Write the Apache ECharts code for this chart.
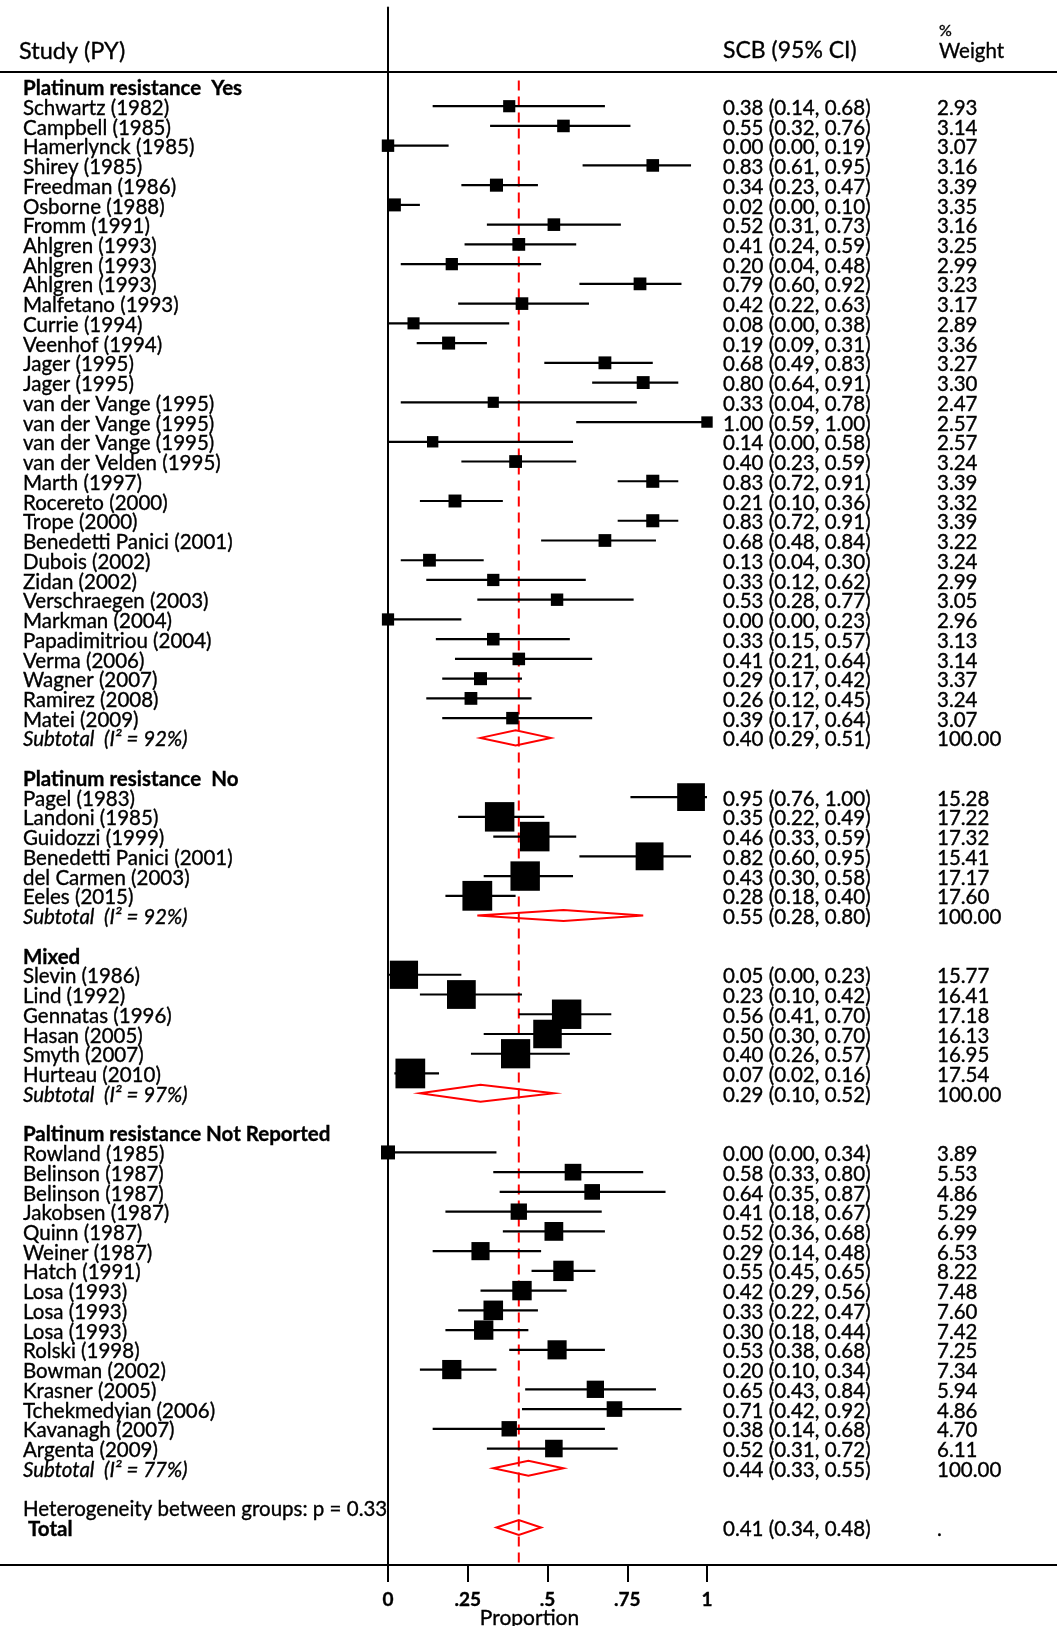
<!DOCTYPE html>
<html>
<head>
<meta charset="utf-8">
<title>Forest plot: SCB proportion by platinum resistance</title>
<script src="https://cdn.jsdelivr.net/npm/echarts@6/dist/echarts.min.js"></script>
<style>
  html, body { margin: 0; padding: 0; background: #ffffff; }
  #chart { width: 1057px; height: 1626px; }
</style>
</head>
<body>
<div id="chart"></div>
<script>
// ---- Group: platinum resistance yes ----
const yesStudies = ['Schwartz (1982)', 'Campbell (1985)', 'Hamerlynck (1985)', 'Shirey (1985)', 'Freedman (1986)',
  'Osborne (1988)', 'Fromm (1991)', 'Ahlgren (1993)', 'Ahlgren (1993)', 'Ahlgren (1993)', 'Malfetano (1993)',
  'Currie (1994)', 'Veenhof (1994)', 'Jager (1995)', 'Jager (1995)', 'van der Vange (1995)', 'van der Vange (1995)',
  'van der Vange (1995)', 'van der Velden (1995)', 'Marth (1997)', 'Rocereto (2000)', 'Trope (2000)',
  'Benedetti Panici (2001)', 'Dubois (2002)', 'Zidan (2002)', 'Verschraegen (2003)', 'Markman (2004)',
  'Papadimitriou (2004)', 'Verma (2006)', 'Wagner (2007)', 'Ramirez (2008)', 'Matei (2009)'];
const yesEst = [0.38, 0.55, 0.00, 0.83, 0.34, 0.02, 0.52, 0.41, 0.20, 0.79, 0.42, 0.08, 0.19, 0.68, 0.80, 0.33,
  1.00, 0.14, 0.40, 0.83, 0.21, 0.83, 0.68, 0.13, 0.33, 0.53, 0.00, 0.33, 0.41, 0.29, 0.26, 0.39];
const yesLo = [0.14, 0.32, 0.00, 0.61, 0.23, 0.00, 0.31, 0.24, 0.04, 0.60, 0.22, 0.00, 0.09, 0.49, 0.64, 0.04,
  0.59, 0.00, 0.23, 0.72, 0.10, 0.72, 0.48, 0.04, 0.12, 0.28, 0.00, 0.15, 0.21, 0.17, 0.12, 0.17];
const yesHi = [0.68, 0.76, 0.19, 0.95, 0.47, 0.10, 0.73, 0.59, 0.48, 0.92, 0.63, 0.38, 0.31, 0.83, 0.91, 0.78,
  1.00, 0.58, 0.59, 0.91, 0.36, 0.91, 0.84, 0.30, 0.62, 0.77, 0.23, 0.57, 0.64, 0.42, 0.45, 0.64];
const yesWeight = [2.93, 3.14, 3.07, 3.16, 3.39, 3.35, 3.16, 3.25, 2.99, 3.23, 3.17, 2.89, 3.36, 3.27, 3.30, 2.47,
  2.57, 2.57, 3.24, 3.39, 3.32, 3.39, 3.22, 3.24, 2.99, 3.05, 2.96, 3.13, 3.14, 3.37, 3.24, 3.07];

// ---- Group: platinum resistance no ----
const noStudies = ['Pagel (1983)', 'Landoni (1985)', 'Guidozzi (1999)', 'Benedetti Panici (2001)',
  'del Carmen (2003)', 'Eeles (2015)'];
const noEst = [0.95, 0.35, 0.46, 0.82, 0.43, 0.28];
const noLo = [0.76, 0.22, 0.33, 0.60, 0.30, 0.18];
const noHi = [1.00, 0.49, 0.59, 0.95, 0.58, 0.40];
const noWeight = [15.28, 17.22, 17.32, 15.41, 17.17, 17.60];

// ---- Group: mixed ----
const mixedStudies = ['Slevin (1986)', 'Lind (1992)', 'Gennatas (1996)', 'Hasan (2005)', 'Smyth (2007)', 'Hurteau (2010)'];
const mixedEst = [0.05, 0.23, 0.56, 0.50, 0.40, 0.07];
const mixedLo = [0.00, 0.10, 0.41, 0.30, 0.26, 0.02];
const mixedHi = [0.23, 0.42, 0.70, 0.70, 0.57, 0.16];
const mixedWeight = [15.77, 16.41, 17.18, 16.13, 16.95, 17.54];

// ---- Group: not reported ----
const nrStudies = ['Rowland (1985)', 'Belinson (1987)', 'Belinson (1987)', 'Jakobsen (1987)', 'Quinn (1987)',
  'Weiner (1987)', 'Hatch (1991)', 'Losa (1993)', 'Losa (1993)', 'Losa (1993)', 'Rolski (1998)', 'Bowman (2002)',
  'Krasner (2005)', 'Tchekmedyian (2006)', 'Kavanagh (2007)', 'Argenta (2009)'];
const nrEst = [0.00, 0.58, 0.64, 0.41, 0.52, 0.29, 0.55, 0.42, 0.33, 0.30, 0.53, 0.20, 0.65, 0.71, 0.38, 0.52];
const nrLo = [0.00, 0.33, 0.35, 0.18, 0.36, 0.14, 0.45, 0.29, 0.22, 0.18, 0.38, 0.10, 0.43, 0.42, 0.14, 0.31];
const nrHi = [0.34, 0.80, 0.87, 0.67, 0.68, 0.48, 0.65, 0.56, 0.47, 0.44, 0.68, 0.34, 0.84, 0.92, 0.68, 0.72];
const nrWeight = [3.89, 5.53, 4.86, 5.29, 6.99, 6.53, 8.22, 7.48, 7.60, 7.42, 7.25, 7.34, 5.94, 4.86, 4.70, 6.11];

// ---- Subgroup and overall pooled estimates ----
const groupTitles = ['Platinum resistance  Yes', 'Platinum resistance  No', 'Mixed', 'Paltinum resistance Not Reported'];
const subtotalEst = [0.40, 0.55, 0.29, 0.44];
const subtotalLo = [0.29, 0.28, 0.10, 0.33];
const subtotalHi = [0.51, 0.80, 0.52, 0.55];
const subtotalI2 = [92, 92, 97, 77];
const totalEst = 0.41;
const totalLo = 0.34;
const totalHi = 0.48;
const heterogeneityP = '0.33';

// ---- Axis ticks ----
const xTicks = [0, 0.25, 0.5, 0.75, 1];
const xTickLabels = ['0', '.25', '.5', '.75', '1'];

// Diamond half heights (px) for the four subtotals and the total
const diamondHalf = [7.5, 5.5, 8.5, 7.5, 7.5];

const FONT = 'Lato';
const FS = 20.5;
const INK = { color: '#000', textBorderColor: '#000', textBorderWidth: 0.35 };
const fmt2 = v => v.toFixed(2);
const ciText = (e, l, h) => fmt2(e) + ' (' + fmt2(l) + ', ' + fmt2(h) + ')';

// Lay the rows out top to bottom
const groups = [
  { names: yesStudies, est: yesEst, lo: yesLo, hi: yesHi, w: yesWeight },
  { names: noStudies, est: noEst, lo: noLo, hi: noHi, w: noWeight },
  { names: mixedStudies, est: mixedEst, lo: mixedLo, hi: mixedHi, w: mixedWeight },
  { names: nrStudies, est: nrEst, lo: nrLo, hi: nrHi, w: nrWeight }
];
const leftText = {}, ciCol = {}, wCol = {};
const ciLines = [], boxes = [], diamonds = [];
let row = 0;
groups.forEach((g, gi) => {
  leftText[row] = '{h|' + groupTitles[gi] + '}';
  row++;
  g.names.forEach((n, i) => {
    leftText[row] = '{s|' + n + '}';
    ciCol[row] = '{v|' + ciText(g.est[i], g.lo[i], g.hi[i]) + '}';
    wCol[row] = '{v|' + fmt2(g.w[i]) + '}';
    ciLines.push([row, g.lo[i], g.hi[i]]);
    boxes.push([g.est[i], row, g.w[i]]);
    row++;
  });
  leftText[row] = '{t|Subtotal  (I\u00b2 = ' + subtotalI2[gi] + '%)}';
  ciCol[row] = '{v|' + ciText(subtotalEst[gi], subtotalLo[gi], subtotalHi[gi]) + '}';
  wCol[row] = '{v|100.00}';
  diamonds.push([row, subtotalEst[gi], subtotalLo[gi], subtotalHi[gi], diamondHalf[gi]]);
  row += 2;
});
leftText[row] = '{s|Heterogeneity between groups: p = ' + heterogeneityP + '}';
row++;
leftText[row] = '{tot|Total}';
ciCol[row] = '{v|' + ciText(totalEst, totalLo, totalHi) + '}';
wCol[row] = '{v|.}';
diamonds.push([row, totalEst, totalLo, totalHi, diamondHalf[4]]);

const Y_MIN = -4, Y_MAX = 74.9;
const rowLabel = map => v => {
  const r = Math.round(v);
  return Math.abs(v - r) < 1e-6 && map[r] !== undefined ? map[r] : '';
};
const baseY = {
  type: 'value', inverse: true, min: Y_MIN, max: Y_MAX, interval: 1,
  splitLine: { show: false }, axisTick: { show: false }
};
// text sits a touch below the row centre
const LOWER = [4, 0, 0, 0];
const valueRich = { v: Object.assign({ fontFamily: FONT, fontSize: FS, padding: LOWER }, INK) };

const chart = echarts.init(document.getElementById('chart'), null, { renderer: 'canvas' });
chart.setOption({
  animation: false,
  backgroundColor: '#ffffff',
  textStyle: { fontFamily: FONT },
  grid: { left: 388, right: 350, top: 7.5, bottom: 61, containLabel: false, outerBoundsMode: 'none' },
  xAxis: {
    type: 'value', min: 0, max: 1, interval: 0.25,
    splitLine: { show: false },
    axisLine: { onZero: false, lineStyle: { color: '#000', width: 2 } },
    axisTick: { show: true, length: 17, lineStyle: { color: '#000', width: 2 } },
    axisLabel: Object.assign({
      margin: 25, fontFamily: FONT, fontSize: 19, fontWeight: 'bold',
      formatter: v => { const i = xTicks.findIndex(t => Math.abs(t - v) < 1e-9); return i >= 0 ? xTickLabels[i] : ''; }
    }, INK),
    name: 'Proportion', nameLocation: 'middle', nameGap: 43, nameMoveOverlap: false,
    nameTextStyle: Object.assign({ fontFamily: FONT, fontSize: 21, padding: [0, 36, 0, 0] }, INK)
  },
  yAxis: [
    Object.assign({}, baseY, {
      position: 'left',
      axisLine: { show: true, onZero: false, lineStyle: { color: '#000', width: 2 } },
      axisLabel: {
        align: 'left', margin: 365, color: '#000', formatter: rowLabel(leftText),
        rich: {
          h: Object.assign({ fontFamily: FONT, fontSize: FS, fontWeight: 'bold', padding: LOWER }, INK),
          s: Object.assign({ fontFamily: FONT, fontSize: FS, padding: LOWER }, INK),
          t: Object.assign({ fontFamily: FONT, fontSize: FS, fontStyle: 'italic', padding: LOWER }, INK),
          tot: Object.assign({ fontFamily: FONT, fontSize: FS, fontWeight: 'bold', padding: [4, 0, 0, 5] }, INK)
        }
      }
    }),
    Object.assign({}, baseY, {
      position: 'right',
      axisLine: { show: false },
      axisLabel: { align: 'left', margin: 16, color: '#000', formatter: rowLabel(ciCol), rich: valueRich }
    }),
    Object.assign({}, baseY, {
      position: 'right',
      axisLine: { show: false },
      axisLabel: { align: 'left', margin: 230, color: '#000', formatter: rowLabel(wCol), rich: valueRich }
    })
  ],
  series: [
    {
      // pooled overall estimate reference line
      type: 'line', yAxisIndex: 0, z: 1, symbol: 'none', silent: true,
      data: [[totalEst, -0.3], [totalEst, Y_MAX]],
      lineStyle: { color: '#ff0000', width: 2, type: [10, 6] }
    },
    {
      // study confidence intervals
      type: 'custom', yAxisIndex: 0, z: 2, silent: true,
      encode: { x: [1, 2], y: 0 },
      data: ciLines,
      renderItem: (params, api) => {
        const a = api.coord([api.value(1), api.value(0)]);
        const b = api.coord([api.value(2), api.value(0)]);
        return { type: 'line', shape: { x1: a[0], y1: a[1], x2: b[0], y2: b[1] },
                 style: { stroke: '#000', lineWidth: 2.2 } };
      }
    },
    {
      // study estimates, box area proportional to weight
      type: 'scatter', yAxisIndex: 0, z: 3, silent: true,
      symbol: 'rect',
      symbolSize: v => Math.sqrt(v[2]) * 7.1,
      itemStyle: { color: '#000', opacity: 1 },
      data: boxes
    },
    {
      // pooled estimates as diamonds
      type: 'custom', yAxisIndex: 0, z: 4, silent: true,
      encode: { x: [1, 2, 3], y: 0 },
      data: diamonds,
      renderItem: (params, api) => {
        const r = api.value(0), h = api.value(4);
        const l = api.coord([api.value(2), r]);
        const c = api.coord([api.value(1), r]);
        const rt = api.coord([api.value(3), r]);
        return { type: 'polygon',
                 shape: { points: [[l[0], l[1]], [c[0], c[1] - h], [rt[0], rt[1]], [c[0], c[1] + h]] },
                 style: { fill: 'none', stroke: '#ff0000', lineWidth: 2 } };
      }
    }
  ],
  graphic: [
    { type: 'line', shape: { x1: 0, y1: 72, x2: 1057, y2: 72 }, style: { stroke: '#000', lineWidth: 2 }, z: 10 },
    { type: 'line', shape: { x1: 0, y1: 1565, x2: 1057, y2: 1565 }, style: { stroke: '#000', lineWidth: 2 }, z: 10 },
    { type: 'text', x: 19, y: 51, style: { text: 'Study (PY)', fill: '#000', font: '23.5px Lato', textVerticalAlign: 'middle', stroke: '#000', lineWidth: 0.35 } },
    { type: 'text', x: 723, y: 51, style: { text: 'SCB (95% CI)', fill: '#000', font: '23px Lato', textVerticalAlign: 'middle', stroke: '#000', lineWidth: 0.35 } },
    { type: 'text', x: 939, y: 31, style: { text: '%', fill: '#000', font: '16px Lato', textVerticalAlign: 'middle', stroke: '#000', lineWidth: 0.35 } },
    { type: 'text', x: 939, y: 51, style: { text: 'Weight', fill: '#000', font: '20.5px Lato', textVerticalAlign: 'middle', stroke: '#000', lineWidth: 0.35 } }
  ]
});
</script>
</body>
</html>
